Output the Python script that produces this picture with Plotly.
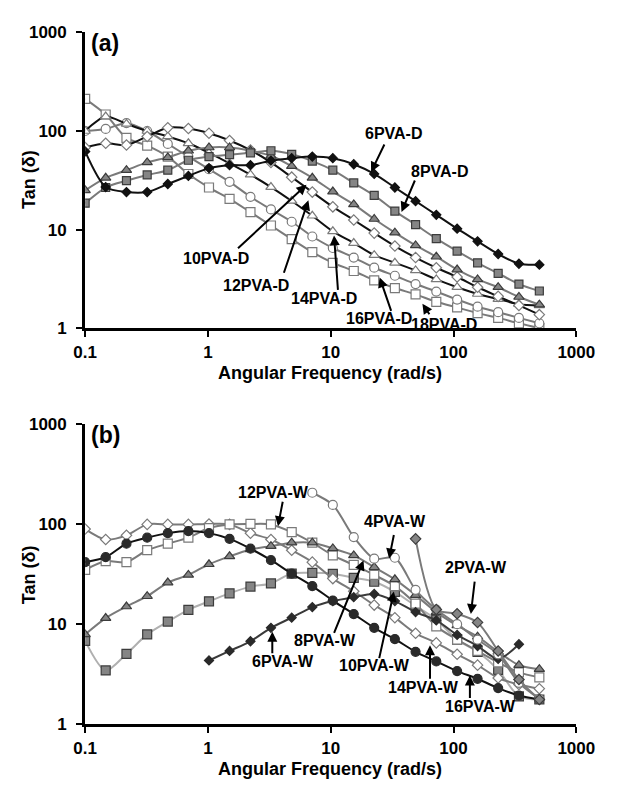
import plotly.graph_objects as go

# Angular frequency sweep (rad/s), 23 log-spaced points from 0.1 to 500
freq = [0.1, 0.147, 0.217, 0.32, 0.471, 0.693, 1.02, 1.5, 2.22, 3.26, 4.81, 7.08,
        10.4, 15.4, 22.6, 33.3, 49.1, 72.4, 107, 157, 231, 341, 500]

# ---- (a) dried gels: tan(delta) ----
d6 = [62, 27, 24, 24, 29, 35, 42, 45, 45, 50, 53, 55, 53, 46, 36.7, 26.7, 19.4, 14.1, 10.2, 7.6, 5.65, 4.5, 4.4]
d8 = [18.5, 26.7, 31.3, 35.8, 40, 50.5, 55, 57.5, 60, 63, 58, 49.5, 40, 29.7, 22.2, 15.4, 11.2, 8.1, 6.05, 4.6, 3.6, 2.8, 2.38]
d10 = [25, 33.5, 40, 48, 54, 63, 68, 68, 63, 56, 44, 33.5, 24.3, 18, 12.8, 9.3, 6.9, 5.3, 3.93, 3.12, 2.6, 2.07, 1.73]
d12 = [68, 75, 72, 88, 108, 106, 95, 80, 64, 48, 34, 24, 17, 12.5, 9.2, 6.8, 5.2, 4.1, 3.3, 2.6, 2.1, 1.7, 1.37]
d14 = [100, 140, 118, 100, 88, 75, 60, 47, 36, 27, 19.5, 13.8, 9.6, 7.3, 5.5, 4.6, 3.85, 3.12, 2.6, 2.22, 1.97, 1.75, 1.7]
d16 = [100, 105, 120, 100, 74, 55, 41, 30.5, 21.5, 16, 12, 8.5, 6.5, 5.2, 4.1, 3.4, 2.8, 2.35, 1.95, 1.65, 1.45, 1.27, 1.12]
d18 = [212, 147, 85, 71, 55, 36.6, 26.7, 20.5, 15, 11, 8, 5.9, 4.6, 3.8, 3.05, 2.55, 2.2, 1.85, 1.62, 1.42, 1.27, 1.12, 1.0]

# ---- (b) wet gels: tan(delta); None = not measured ----
w2 = [None] * 16 + [71, 14, 12.7, 10.4, 5.4, 2.8, 1.77]
w4 = [None] * 11 + [205, 155, 74, 45, 46, 22, 14, 10, 7, 5, 2.6, 1.8]
w6 = [None] * 6 + [4.34, 5.4, 6.75, 9.2, 11.6, 14.8, 17, 18.6, 20, 17, 13.2, 10.9, 7.8, 6.05, 4.5, 6.3, None]
w8 = [7.9, 11.5, 15, 19, 26, 31, 39.6, 47.5, 55.6, 60, 65, 65, 57, 48.5, 37, 28, 19.5, 13.2, 9.7, 7.5, 5.3, 3.9, 3.55]
w10 = [6.8, 3.45, 5.05, 7.9, 10.6, 13.9, 16.9, 20.3, 23.7, 25.5, 32, 32.5, 31.8, 29, 26.5, 21, 15.2, 11.1, 7, 5.3, 3.5, 1.9, 1.77]
w12 = [34.8, 42.6, 41.6, 54.7, 63.6, 73, 91, 99, 100, 99, 83, 65, 48.6, 39, 31, 24, 16, 9.5, 7, 5.4, 4.15, 3.3, 2.95]
w14 = [89, 70, 77, 99, 99, 99, 100, 99, 81, 70, 54.7, 41.6, 28.5, 21.3, 15.5, 11.6, 8.1, 6.5, 5, 3.9, 2.9, 2.5, 2.27]
w16 = [41.6, 46.6, 63.6, 73, 81, 85, 81, 71, 56.7, 43.5, 32, 24, 17.2, 12.6, 9.2, 7.1, 5.3, 4.25, 3.4, 2.85, 2.3, 1.94, 1.77]

BLACK = "#111111"
GRAY = "#7a7a7a"
LIGHT = "#b0b0b0"
FILL = "#858585"
EDGE = "#3c3c3c"

def series(y, line, symbol, fill, edge, size, yaxis):
    return go.Scatter(
        x=freq, y=y, mode="lines+markers", xaxis="x" if yaxis == "y" else "x2", yaxis=yaxis,
        line=dict(color=line, width=2, shape="spline", smoothing=0.8),
        marker=dict(symbol=symbol, size=size, color=fill, line=dict(color=edge, width=1.2)),
        connectgaps=False, showlegend=False, hoverinfo="skip",
    )

fig = go.Figure()
# panel (a)
fig.add_trace(series(d18, GRAY, "square", "white", GRAY, 9, "y"))
fig.add_trace(series(d16, GRAY, "circle", "white", GRAY, 9, "y"))
fig.add_trace(series(d14, BLACK, "triangle-up", "white", GRAY, 9, "y"))
fig.add_trace(series(d12, BLACK, "diamond", "white", GRAY, 8, "y"))
fig.add_trace(series(d10, GRAY, "triangle-up", FILL, EDGE, 9, "y"))
fig.add_trace(series(d8, GRAY, "square", FILL, EDGE, 8, "y"))
fig.add_trace(series(d6, BLACK, "diamond", BLACK, BLACK, 7, "y"))
# panel (b)
fig.add_trace(series(w10, LIGHT, "square", FILL, EDGE, 9, "y2"))
fig.add_trace(series(w14, GRAY, "diamond", "white", GRAY, 8, "y2"))
fig.add_trace(series(w12, GRAY, "square", "white", GRAY, 9, "y2"))
fig.add_trace(series(w8, GRAY, "triangle-up", FILL, EDGE, 9, "y2"))
fig.add_trace(series(w16, BLACK, "circle", "#2a2a2a", "#2a2a2a", 9, "y2"))
fig.add_trace(series(w6, "#3a3a3a", "diamond", "#2a2a2a", "#2a2a2a", 7, "y2"))
fig.add_trace(series(w4, GRAY, "circle", "white", GRAY, 9, "y2"))
fig.add_trace(series(w2, GRAY, "diamond", FILL, EDGE, 8, "y2"))

W, H = 620, 789
x0, x1 = 77, 594
ya_top, ya_bot = 24, 327
yb_top, yb_bot = 425, 733

FONT = "Liberation Sans, Arial, sans-serif"
tickfont = dict(family=FONT, size=17, color="black")
axcommon = dict(type="log", showgrid=False, zeroline=False, showline=True, linecolor="black",
                linewidth=3, ticks="outside", ticklen=6, tickwidth=2, tickcolor="black",
                tickfont=tickfont)
xticks = dict(tickvals=[0.1, 1, 10, 100, 1000],
              ticktext=["<b>0.1</b>", "<b>1</b>", "<b>10</b>", "<b>100</b>", "<b>1000</b>"])
yticks = dict(tickvals=[1, 10, 100, 1000],
              ticktext=["<b>1</b>", "<b>10</b>", "<b>100</b>", "<b>1000</b>"],
              ticklabelstandoff=6)

def ydom(top, bot):
    return [1 - bot / H, 1 - top / H]

fig.update_layout(
    width=W, height=H, margin=dict(l=0, r=0, t=0, b=0),
    paper_bgcolor="white", plot_bgcolor="white",
    xaxis=dict(axcommon, **xticks, domain=[x0 / W, x1 / W], range=[-1, 3], anchor="y"),
    yaxis=dict(axcommon, **yticks, domain=ydom(ya_top, ya_bot), range=[0, 3], anchor="x"),
    xaxis2=dict(axcommon, **xticks, domain=[x0 / W, x1 / W], range=[-1, 3], anchor="y2"),
    yaxis2=dict(axcommon, **yticks, domain=ydom(yb_top, yb_bot), range=[0, 3], anchor="x2"),
)

def px(xp, yp):
    return xp / W, 1 - yp / H

def text(s, xp, yp, size=16, angle=0):
    xx, yy = px(xp, yp)
    fig.add_annotation(x=xx, y=yy, xref="paper", yref="paper", text=f"<b>{s}</b>",
                       showarrow=False, font=dict(family=FONT, size=size, color="black"),
                       textangle=angle, xanchor="center", yanchor="middle")

def arrow(s, tx, ty, hx, hy, ax_, ay_):
    # label at (tx, ty); arrow from (ax_, ay_) to head (hx, hy), all in pixels
    text(s, tx, ty)
    xx, yy = px(hx, hy)
    fig.add_annotation(x=xx, y=yy, xref="paper", yref="paper", text="", showarrow=True,
                       axref="pixel", ayref="pixel", ax=ax_ - hx, ay=ay_ - hy,
                       arrowhead=2, arrowsize=1, arrowwidth=2, arrowcolor="black")

# panel letters and axis titles
text("(a)", 98, 35, size=23)
text("(b)", 98, 436, size=23)
text("Angular Frequency (rad/s)", 335, 373, size=18)
text("Angular Frequency (rad/s)", 335, 779, size=18)
text("Tan (δ)", 18, 175, size=18, angle=-90)
text("Tan (δ)", 18, 580, size=18, angle=-90)

# series labels, panel (a)
arrow("6PVA-D", 402, 128, 378, 167, 392, 138)
arrow("8PVA-D", 450, 166, 410, 208, 424, 175)
arrow("10PVA-D", 215, 256, 310, 180, 240, 245)
arrow("12PVA-D", 257, 283, 312, 196, 287, 270)
arrow("14PVA-D", 328, 297, 339, 232, 343, 288)
arrow("16PVA-D", 386, 317, 387, 275, 399, 310)
arrow("18PVA-D", 455, 323, 432, 302, 440, 314)

# series labels, panel (b)
arrow("12PVA-W", 275, 495, 280, 530, 285, 504)
arrow("4PVA-W", 403, 525, 397, 563, 402, 538)
arrow("2PVA-W", 488, 572, 483, 620, 487, 586)
arrow("8PVA-W", 329, 647, 370, 565, 340, 639)
arrow("6PVA-W", 285, 669, 274, 638, 274, 661)
arrow("10PVA-W", 382, 673, 402, 597, 387, 665)
arrow("14PVA-W", 433, 695, 440, 652, 440, 687)
arrow("16PVA-W", 493, 715, 482, 683, 482, 707)

fig.write_html("out.html")
